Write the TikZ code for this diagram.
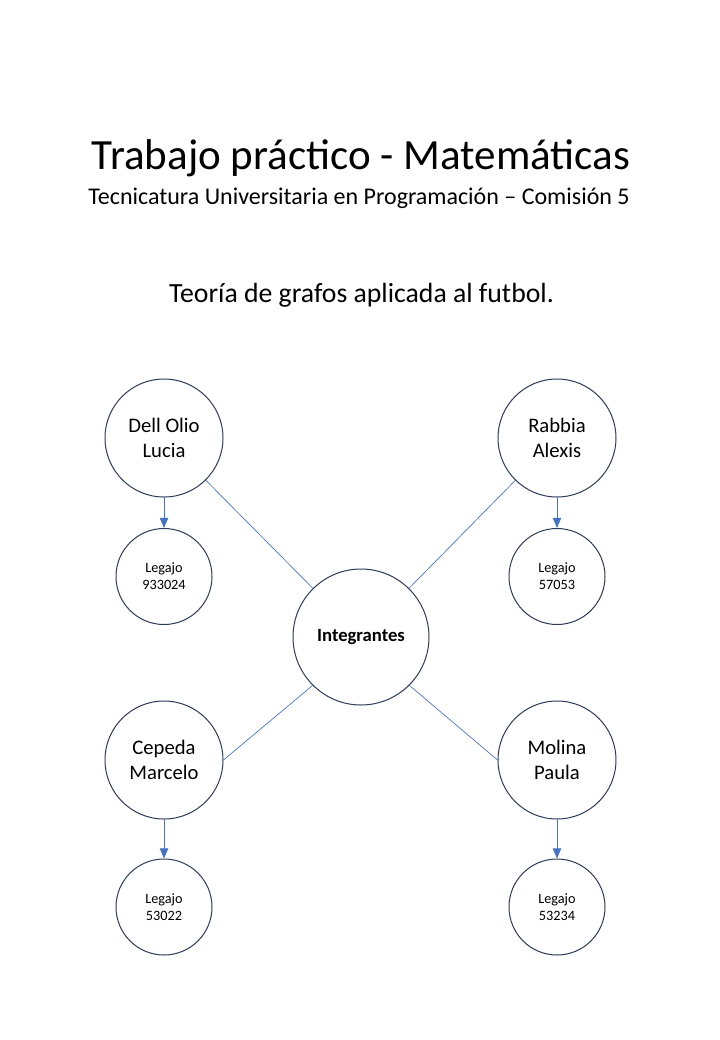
\documentclass[tikz,border=0pt]{standalone}
\usepackage{fontspec}
\setmainfont{Carlito}
\usetikzlibrary{arrows}
\definecolor{borde}{HTML}{2F3B5A}
\definecolor{azul}{HTML}{4472C4}

\begin{document}
\begin{tikzpicture}[line cap=round,line join=round,>=triangle 45,x=0.75pt,y=-0.75pt,
	persona/.style={circle,draw=borde,line width=0.75pt,minimum size=88.5pt,inner sep=0pt,align=center,font=\fontsize{15.5}{18.75}\selectfont},
	legajo/.style={circle,draw=borde,line width=0.75pt,minimum size=72pt,inner sep=0pt,align=center,font=\fontsize{10.7}{12.75}\selectfont},
	enlace/.style={draw=azul,line width=0.5pt},
	flecha/.style={->,draw=azul,line width=0.75pt}]
		\fill[white] (0,0) rectangle (720,1040);
		\node[anchor=base,font=\fontsize{32.3}{38}\selectfont] (titulo) at (361,169) {Trabajo práctico - Matemáticas};
		\node[anchor=base,font=\fontsize{18}{22}\selectfont] (sub) at (359,204) {Tecnicatura Universitaria en Programación – Comisión 5};
		\node[anchor=base,font=\fontsize{20.8}{25}\selectfont] (tema) at (361.5,302) {Teoría de grafos aplicada al futbol.};
		% centro
		\node[circle,draw=borde,line width=0.75pt,minimum size=102pt,inner sep=0pt,font=\fontsize{14}{17}\selectfont\bfseries] (int) at (361,637) {Integrantes};
		% integrantes
		\node[persona] (dell) at (164,438) {Dell Olio\\Lucia};
		\node[persona] (rabbia) at (557,438) {Rabbia\\Alexis};
		\node[persona] (cepeda) at (164,760) {Cepeda\\Marcelo};
		\node[persona] (molina) at (557,760) {Molina\\Paula};
		% legajos
		\node[legajo] (ldell) at (164,576.5) {Legajo\\933024};
		\node[legajo] (lrabbia) at (557,576.5) {Legajo\\57053};
		\node[legajo] (lcepeda) at (164,907) {Legajo\\53022};
		\node[legajo] (lmolina) at (557,907) {Legajo\\53234};
		\draw[enlace] (int) -- (dell);
		\draw[enlace] (int) -- (rabbia);
		\draw[enlace] (int.south west) -- (cepeda.east);
		\draw[enlace] (int.south east) -- (molina.west);
		\draw[flecha] (dell) -- (ldell);
		\draw[flecha] (rabbia) -- (lrabbia);
		\draw[flecha] (cepeda) -- (lcepeda);
		\draw[flecha] (molina) -- (lmolina);
	\end{tikzpicture}
\end{document}
